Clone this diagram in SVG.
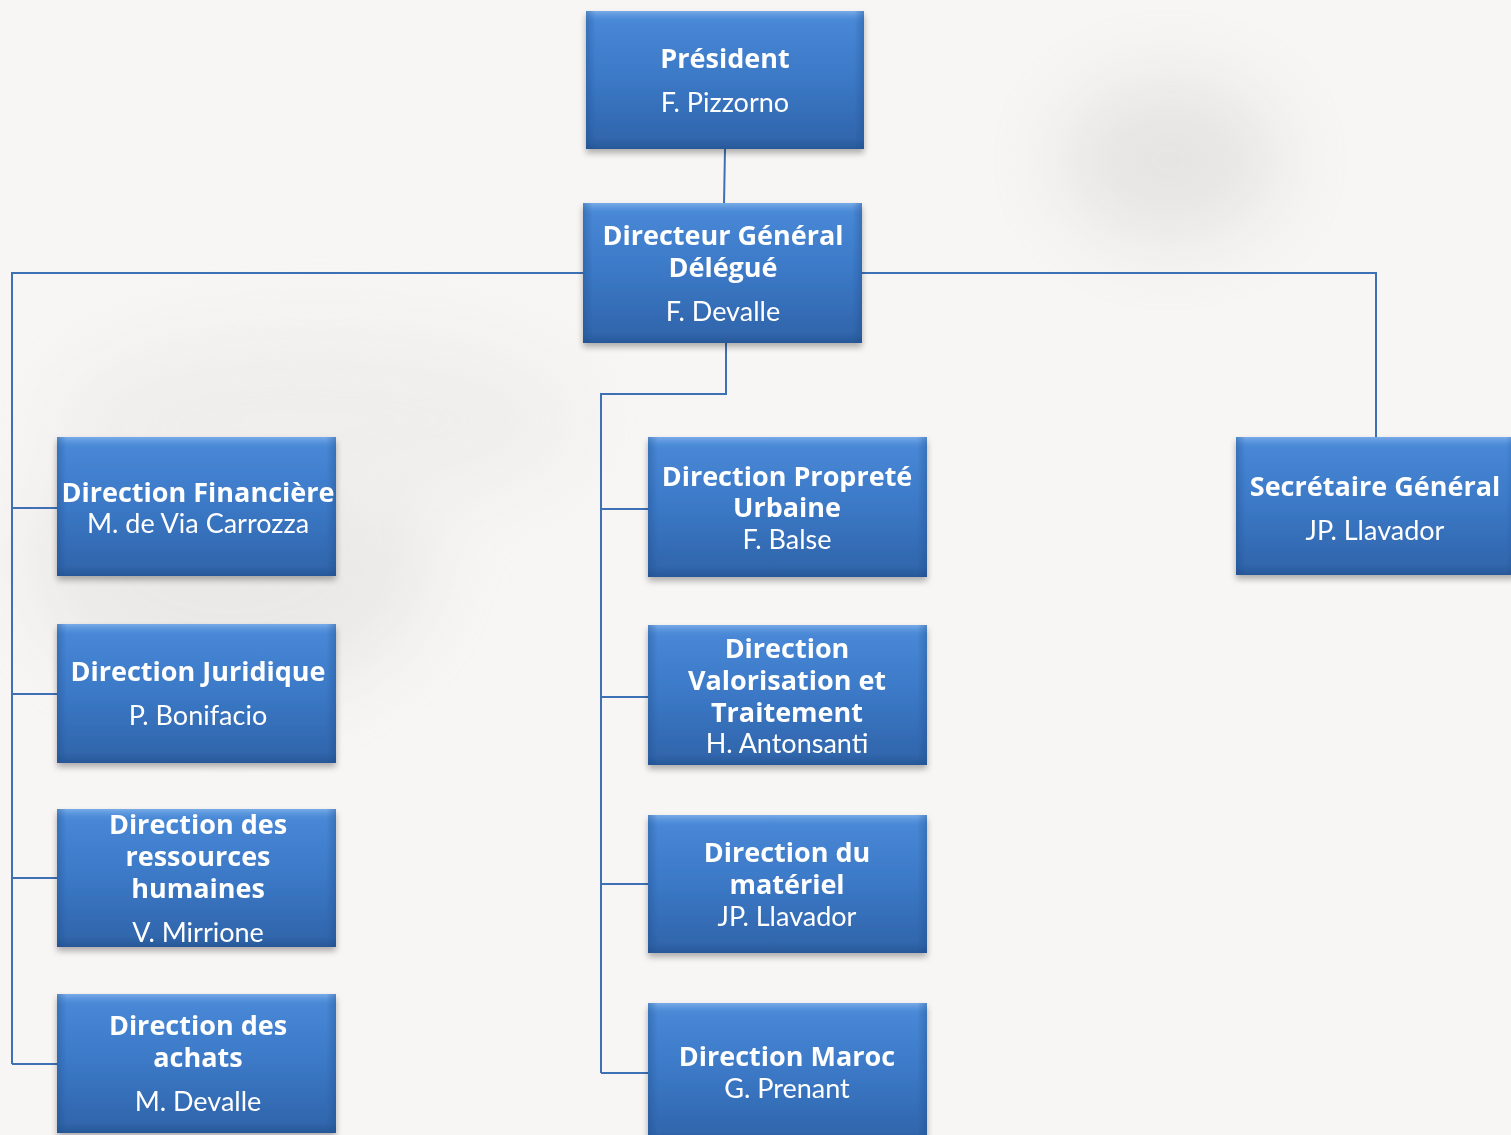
<svg xmlns="http://www.w3.org/2000/svg" width="1511" height="1135" viewBox="0 0 1511 1135">
<defs>
<linearGradient id="gBox" x1="0" y1="0" x2="0" y2="1">
<stop offset="0" stop-color="#4a8ad8"/>
<stop offset="0.5" stop-color="#3b78c6"/>
<stop offset="1" stop-color="#2f63a8"/>
</linearGradient>
<linearGradient id="gTop" x1="0" y1="0" x2="0" y2="1">
<stop offset="0" stop-color="#7fb0ea" stop-opacity="0.9"/>
<stop offset="1" stop-color="#4a8ad8" stop-opacity="0"/>
</linearGradient>
<linearGradient id="gSide" x1="0" y1="0" x2="1" y2="0">
<stop offset="0" stop-color="#1f4f8f" stop-opacity="0.4"/>
<stop offset="0.035" stop-color="#1f4f8f" stop-opacity="0"/>
<stop offset="0.965" stop-color="#1f4f8f" stop-opacity="0"/>
<stop offset="1" stop-color="#1f4f8f" stop-opacity="0.4"/>
</linearGradient>
<linearGradient id="gBot" x1="0" y1="0" x2="0" y2="1">
<stop offset="0" stop-color="#1f4d8a" stop-opacity="0"/>
<stop offset="1" stop-color="#1f4d8a" stop-opacity="0.5"/>
</linearGradient>
<filter id="sh" x="-10%" y="-10%" width="120%" height="130%">
<feDropShadow dx="0" dy="4" stdDeviation="3" flood-color="#000" flood-opacity="0.3"/>
</filter>
<filter id="blur" x="-50%" y="-50%" width="200%" height="200%">
<feGaussianBlur stdDeviation="40"/>
</filter>
<symbol id="box" viewBox="0 0 280 140" preserveAspectRatio="none">
<rect x="0" y="0" width="280" height="140" fill="url(#gBox)"/>
<rect x="0" y="0" width="280" height="12" fill="url(#gTop)"/>
<rect x="0" y="0" width="280" height="140" fill="url(#gSide)"/>
<rect x="0" y="130" width="280" height="10" fill="url(#gBot)"/>
</symbol>
</defs>
<style>
.conn{fill:none;stroke:#3d70b5;stroke-width:2}
.t{font-family:"Open Sans","Lato","DejaVu Sans",sans-serif;font-weight:bold;font-size:27px;fill:#ffffff;text-anchor:middle}
.n{font-family:"Lato","Open Sans","DejaVu Sans",sans-serif;font-weight:normal;font-size:27px;fill:#ffffff;text-anchor:middle}
</style>
<rect x="0" y="0" width="1511" height="1135" fill="#f8f6f4"/>
<g id="background" opacity="0.35">
<ellipse cx="1170" cy="160" rx="110" ry="80" fill="#c4c4c4" filter="url(#blur)"/>
<ellipse cx="230" cy="560" rx="200" ry="140" fill="#d2d2d2" filter="url(#blur)"/>
<ellipse cx="320" cy="420" rx="260" ry="90" fill="#e0e0e0" filter="url(#blur)"/>
</g>
<g id="connectors">
<path class="conn" d="M725,149 L724,204"/>
<path class="conn" d="M584,273 L12,273 L12,1064"/>
<path class="conn" d="M12,508 L58,508 M12,694 L58,694 M12,878 L58,878 M12,1064 L58,1064"/>
<path class="conn" d="M726,343 L726,394 L601,394 L601,1073"/>
<path class="conn" d="M601,509 L648,509 M601,697 L648,697 M601,884 L648,884 M601,1073 L648,1073"/>
<path class="conn" d="M862,273 L1376,273 L1376,438"/>
</g>
<g id="president" filter="url(#sh)">
<use href="#box" x="586" y="11" width="278" height="138"/>
<text class="t" x="725" y="68">Président</text>
<text class="n" x="725" y="112">F. Pizzorno</text>
</g>
<g id="dg" filter="url(#sh)">
<use href="#box" x="583" y="203" width="279" height="140"/>
<text class="t" x="723" y="245">Directeur Général</text>
<text class="t" x="723" y="277">Délégué</text>
<text class="n" x="723" y="321">F. Devalle</text>
</g>
<g id="financiere" filter="url(#sh)">
<use href="#box" x="57" y="437" width="279" height="139"/>
<text class="t" x="198" y="502">Direction Financière</text>
<text class="n" x="198" y="533">M. de Via Carrozza</text>
</g>
<g id="juridique" filter="url(#sh)">
<use href="#box" x="57" y="624" width="279" height="139"/>
<text class="t" x="198" y="681">Direction Juridique</text>
<text class="n" x="198" y="725">P. Bonifacio</text>
</g>
<g id="rh" filter="url(#sh)">
<use href="#box" x="57" y="809" width="279" height="138"/>
<text class="t" x="198" y="834">Direction des</text>
<text class="t" x="198" y="866">ressources</text>
<text class="t" x="198" y="898">humaines</text>
<text class="n" x="198" y="942">V. Mirrione</text>
</g>
<g id="achats" filter="url(#sh)">
<use href="#box" x="57" y="994" width="279" height="139"/>
<text class="t" x="198" y="1035">Direction des</text>
<text class="t" x="198" y="1067">achats</text>
<text class="n" x="198" y="1111">M. Devalle</text>
</g>
<g id="proprete" filter="url(#sh)">
<use href="#box" x="648" y="437" width="279" height="140"/>
<text class="t" x="787" y="486">Direction Propreté</text>
<text class="t" x="787" y="517">Urbaine</text>
<text class="n" x="787" y="549">F. Balse</text>
</g>
<g id="valorisation" filter="url(#sh)">
<use href="#box" x="648" y="625" width="279" height="140"/>
<text class="t" x="787" y="658">Direction</text>
<text class="t" x="787" y="690">Valorisation et</text>
<text class="t" x="787" y="722">Traitement</text>
<text class="n" x="787" y="753">H. Antonsanti</text>
</g>
<g id="materiel" filter="url(#sh)">
<use href="#box" x="648" y="815" width="279" height="138"/>
<text class="t" x="787" y="862">Direction du</text>
<text class="t" x="787" y="894">matériel</text>
<text class="n" x="787" y="926">JP. Llavador</text>
</g>
<g id="maroc" filter="url(#sh)">
<use href="#box" x="648" y="1003" width="279" height="140"/>
<text class="t" x="787" y="1066">Direction Maroc</text>
<text class="n" x="787" y="1098">G. Prenant</text>
</g>
<g id="secretaire" filter="url(#sh)">
<use href="#box" x="1236" y="437" width="280" height="138"/>
<text class="t" x="1375" y="496">Secrétaire Général</text>
<text class="n" x="1375" y="540">JP. Llavador</text>
</g>
</svg>
